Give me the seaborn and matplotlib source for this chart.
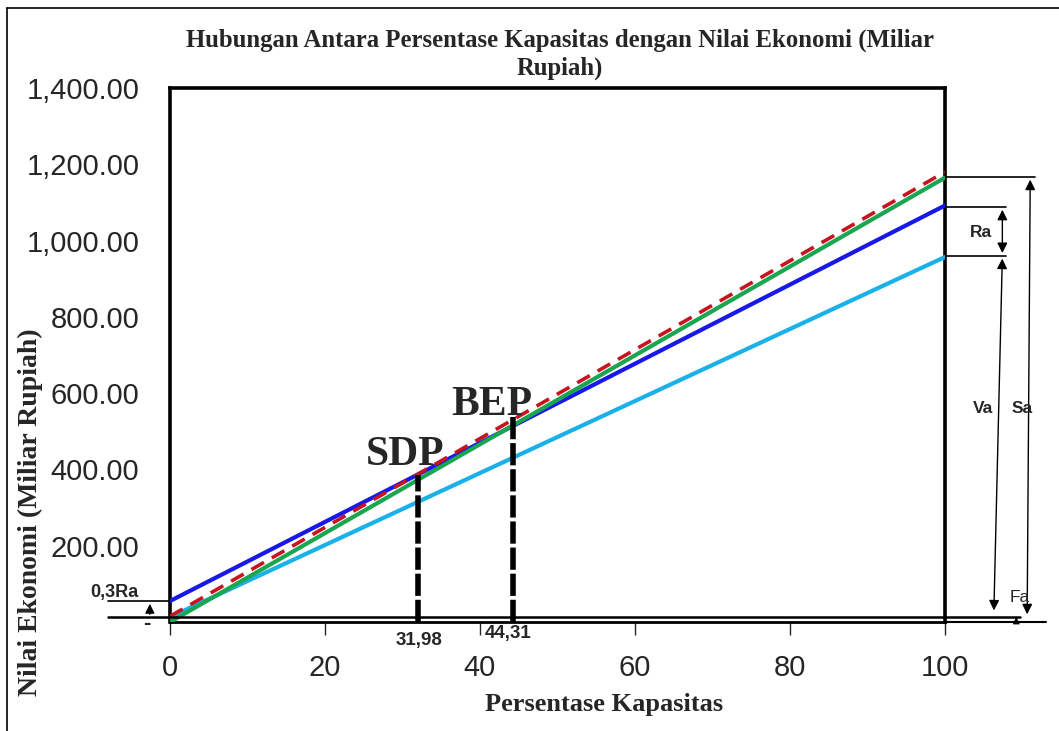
import matplotlib
matplotlib.use("Agg")
import matplotlib.pyplot as plt
import seaborn as sns
import pandas as pd
from matplotlib.lines import Line2D

sns.set_style("white")

# ---- data ----
kapasitas = [0, 100]
penjualan_green = [0, 1165]        # Sa line
biaya_red = [15, 1180]             # red dashed line
blue_line = [55, 1092]             # blue line (starts at 0,3Ra)
lightblue_line = [13, 957]         # light blue line
sdp_x, sdp_y = 31.98, 385
bep_x, bep_y = 44.31, 545
fa_val = 13
ra03_val = 55
sa_top, ra_top, va_top = 1167, 1088, 960
x_ticks = [0, 20, 40, 60, 80, 100]
y_ticks = [0, 200, 400, 600, 800, 1000, 1200, 1400]
y_ticklabels = ["", "200.00", "400.00", "600.00", "800.00", "1,000.00", "1,200.00", "1,400.00"]

df = pd.DataFrame({
    "x": kapasitas * 4,
    "y": lightblue_line + blue_line + penjualan_green + biaya_red,
    "s": ["lb"] * 2 + ["b"] * 2 + ["g"] * 2 + ["r"] * 2,
})

W, H = 1059, 731
fig = plt.figure(figsize=(W / 100, H / 100), dpi=100)
ax = fig.add_axes([170 / W, 1 - 622 / H, (945 - 170) / W, (622 - 88) / H])

pal = {"lb": "#1ab0ea", "b": "#1818e8", "g": "#1aa650", "r": "#c8141e"}
for key, lw, ls in [("lb", 3.0, "-"), ("b", 3.0, "-"), ("g", 3.0, "-"), ("r", 2.6, (0, (4, 2.5)))]:
    sub = df[df.s == key]
    sns.lineplot(data=sub, x="x", y="y", ax=ax, color=pal[key], lw=lw,
                 linestyle=ls, legend=False, zorder=3)

ax.set_xlim(0, 100)
ax.set_ylim(0, 1400)
ax.set_xticks(x_ticks)
ax.set_xticklabels([str(v) for v in x_ticks])
ax.set_yticks(y_ticks)
ax.set_yticklabels(y_ticklabels)
ax.tick_params(axis="x", direction="out", length=9, width=1, labelsize=21, pad=14,
               bottom=True)
ax.tick_params(axis="y", length=0, labelsize=21, pad=22)
for lab in ax.get_xticklabels() + ax.get_yticklabels():
    lab.set_family(["Liberation Sans", "DejaVu Sans"])
ax.set_xlabel("")
ax.set_ylabel("")
for sp in ["top", "left", "right"]:
    ax.spines[sp].set_linewidth(2.6)
    ax.spines[sp].set_color("black")
ax.spines["bottom"].set_linewidth(2.0)
ax.spines["bottom"].set_color("black")

# zero label "-"
ax.text(-3.0, -3, "-", fontsize=16, fontweight="bold", family="Liberation Sans",
        ha="center", va="center", clip_on=False)

# vertical dashed lines (SDP, BEP)
for xv, yv in [(sdp_x, sdp_y), (bep_x, bep_y)]:
    ax.plot([xv, xv], [0, yv], color="black", lw=4, linestyle=(0, (4, 0.7)), zorder=4)

ax.text(sdp_x - 1.7, 437, "SDP", fontsize=30, fontweight="bold", family="Liberation Serif",
        ha="center", va="center", zorder=5)
ax.text(bep_x - 2.8, 568, "BEP", fontsize=30, fontweight="bold", family="Liberation Serif",
        ha="center", va="center", zorder=5)
ax.text(sdp_x + 0.2, -48, "31,98", fontsize=13.5, fontweight="bold", family="Liberation Sans",
        ha="center", va="center", clip_on=False)
ax.text(bep_x - 0.7, -30, "44,31", fontsize=13.5, fontweight="bold", family="Liberation Sans",
        ha="center", va="center", clip_on=False)

# Fa line and extended bottom line
ax.plot([-8, 109.7], [fa_val, fa_val], color="black", lw=1.8, clip_on=False, zorder=4)
ax.plot([100, 113], [0, 0], color="black", lw=1.5, clip_on=False)
# 0,3Ra
ax.plot([-8, 0], [ra03_val, ra03_val], color="black", lw=1.2, clip_on=False)
ax.annotate("", xy=(-2.6, ra03_val), xytext=(-2.6, fa_val),
            arrowprops=dict(arrowstyle="-|>", color="black", lw=1.0, mutation_scale=14),
            annotation_clip=False)
ax.text(-7.2, 78, "0,3Ra", fontsize=13, fontweight="bold", family="Liberation Sans",
        ha="center", va="center", clip_on=False)

# right side annotations
ax.plot([100, 111.6], [sa_top, sa_top], color="black", lw=1.2, clip_on=False)
ax.plot([100, 107.9], [ra_top, ra_top], color="black", lw=1.2, clip_on=False)
ax.plot([100, 107.9], [va_top, va_top], color="black", lw=1.2, clip_on=False)
ap = dict(arrowstyle="<|-|>", color="black", lw=1.0, mutation_scale=15)
ax.annotate("", xy=(107.4, ra_top), xytext=(107.4, va_top), arrowprops=ap,
            annotation_clip=False)
ax.annotate("", xy=(107.4, va_top), xytext=(106.3, fa_val + 10), arrowprops=ap,
            annotation_clip=False)
ax.annotate("", xy=(111.0, sa_top), xytext=(110.6, fa_val), arrowprops=ap,
            annotation_clip=False)
ax.annotate("", xy=(109.2, fa_val), xytext=(109.2, 0),
            arrowprops=dict(arrowstyle="-|>", color="black", lw=0.8, mutation_scale=10),
            annotation_clip=False)
ax.text(104.6, 1020, "Ra", fontsize=12.5, fontweight="bold", family="Liberation Sans",
        ha="center", va="center", clip_on=False)
ax.text(104.9, 560, "Va", fontsize=12.5, fontweight="bold", family="Liberation Sans",
        ha="center", va="center", clip_on=False)
ax.text(109.9, 560, "Sa", fontsize=12.5, fontweight="bold", family="Liberation Sans",
        ha="center", va="center", clip_on=False)
ax.text(109.6, 65, "Fa", fontsize=12.5, family="Liberation Sans",
        ha="center", va="center", clip_on=False)

# titles
fig.text(560 / W, 1 - 40 / H, "Hubungan Antara Persentase Kapasitas dengan Nilai Ekonomi (Miliar",
         fontsize=17.8, fontweight="bold", family="Liberation Serif", ha="center", va="center")
fig.text(560 / W, 1 - 68 / H, "Rupiah)", fontsize=17.8, fontweight="bold",
         family="Liberation Serif", ha="center", va="center")
fig.text(604 / W, 1 - 705 / H, "Persentase Kapasitas", fontsize=19, fontweight="bold",
         family="Liberation Serif", ha="center", va="center")
fig.text(30 / W, 1 - 512 / H, "Nilai Ekonomi (Miliar Rupiah)", fontsize=20, fontweight="bold",
         family="Liberation Serif", ha="center", va="center", rotation=90)

# figure border (top and left)
fig.add_artist(Line2D([7 / W, 1.0], [1 - 8 / H, 1 - 8 / H], transform=fig.transFigure,
                      color="black", lw=1.2))
fig.add_artist(Line2D([7 / W, 7 / W], [0, 1 - 8 / H], transform=fig.transFigure,
                      color="black", lw=1.2))

fig.savefig("out.png", dpi=100)
